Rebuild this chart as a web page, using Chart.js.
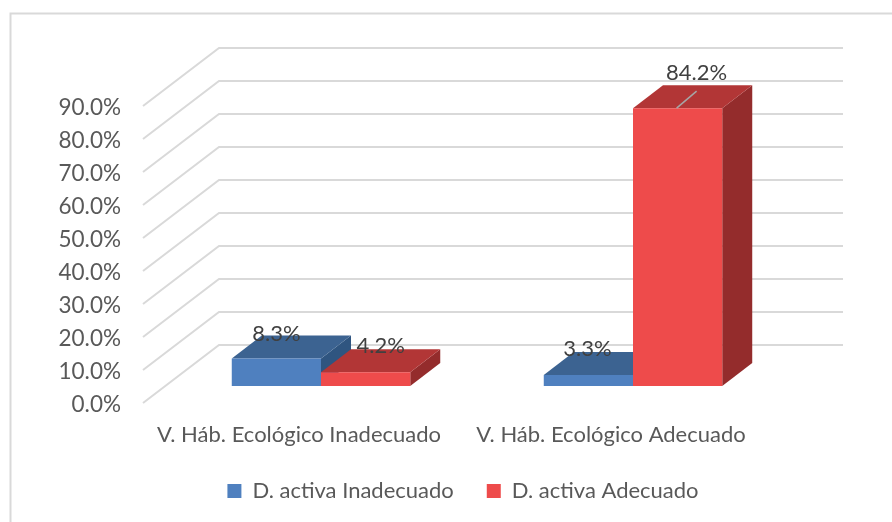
<!DOCTYPE html>
<html><head><meta charset="utf-8">
<style>html,body{margin:0;padding:0;background:#fff}#wrap{width:892px;height:522px}</style>
<script src="https://cdn.jsdelivr.net/npm/chart.js@4"></script>
</head><body><div id="wrap"><canvas id="c" width="892" height="522"></canvas></div>
<script>
const categories = ["V. Háb. Ecológico Inadecuado", "V. Háb. Ecológico Adecuado"];
const seriesInadecuado = [8.3, 3.3];
const seriesAdecuado = [4.2, 84.2];
const seriesNames = ["D. activa Inadecuado", "D. activa Adecuado"];

const FONT = "Lato";
const GRID_LIFT = -2;
const WALL = {dx: 76, dy: -58};
const BAR_SHIFT = {dx: 22, dy: -19};
const BAR_DEPTH = {dx: 30, dy: -23};
const shades = [
  {front: "#4f80bf", top: "#3c6391", side: "#2f5580"},
  {front: "#ee4b4b", top: "#b23636", side: "#942c2c"}
];
const labelNudge = [[[0, -25], [-1, -26]], [[15, -26], [19, -35]]];

const depth3d = {
  id: "depth3d",
  beforeDraw(chart) {
    const {ctx, chartArea: a, scales: {y}} = chart;
    ctx.save();
    ctx.strokeStyle = "#d9d9d9";
    ctx.lineWidth = 2;
    ctx.beginPath();
    ctx.moveTo(10.5, 522); ctx.lineTo(10.5, 13.5); ctx.lineTo(892, 13.5);
    ctx.stroke();
    y.ticks.forEach(t => {
      const py = y.getPixelForValue(t.value) + GRID_LIFT;
      ctx.beginPath();
      ctx.moveTo(a.left, py);
      ctx.lineTo(a.left + WALL.dx, py + WALL.dy);
      ctx.lineTo(a.right + WALL.dx, py + WALL.dy);
      ctx.stroke();
    });
    ctx.restore();
  },
  beforeDatasetsDraw(chart) {
    const ctx = chart.ctx;
    ctx.save();
    ctx.translate(BAR_SHIFT.dx, BAR_SHIFT.dy);
    chart.data.datasets.forEach((ds, i) => {
      const s = shades[i];
      chart.getDatasetMeta(i).data.forEach(b => {
        const l = b.x - b.width / 2, r = b.x + b.width / 2;
        const {dx, dy} = BAR_DEPTH;
        ctx.fillStyle = s.side;
        ctx.beginPath();
        ctx.moveTo(r, b.y); ctx.lineTo(r + dx, b.y + dy);
        ctx.lineTo(r + dx, b.base + dy); ctx.lineTo(r, b.base);
        ctx.closePath(); ctx.fill();
        ctx.fillStyle = s.top;
        ctx.beginPath();
        ctx.moveTo(l, b.y); ctx.lineTo(l + dx, b.y + dy);
        ctx.lineTo(r + dx, b.y + dy); ctx.lineTo(r, b.y);
        ctx.closePath(); ctx.fill();
      });
    });
    ctx.restore();
  },
  beforeDatasetDraw(chart) {
    chart.ctx.save();
    chart.ctx.translate(BAR_SHIFT.dx, BAR_SHIFT.dy);
  },
  afterDatasetDraw(chart) { chart.ctx.restore(); },
  afterDatasetsDraw(chart) {
    const ctx = chart.ctx;
    ctx.save();
    ctx.font = "22px " + FONT;
    ctx.fillStyle = "#404040";
    ctx.textAlign = "center";
    ctx.textBaseline = "middle";
    chart.data.datasets.forEach((ds, i) => {
      chart.getDatasetMeta(i).data.forEach((b, j) => {
        const cx = b.x + BAR_SHIFT.dx, top = b.y + BAR_SHIFT.dy;
        const [nx, ny] = labelNudge[i][j];
        if (i === 1 && j === 1) {
          ctx.strokeStyle = "#a6a6a6";
          ctx.lineWidth = 1.5;
          ctx.beginPath();
          ctx.moveTo(cx - 1, top);
          ctx.lineTo(cx + nx, top + ny + 18);
          ctx.stroke();
        }
        ctx.fillText(ds.data[j].toFixed(1) + "%", cx + nx, top + ny);
      });
    });
    ctx.restore();
  }
};

new Chart(document.getElementById("c"), {
  type: "bar",
  data: {
    labels: categories,
    datasets: [
      {label: seriesNames[0], data: seriesInadecuado, backgroundColor: shades[0].front, clip: false},
      {label: seriesNames[1], data: seriesAdecuado, backgroundColor: shades[1].front, clip: false}
    ]
  },
  options: {
    responsive: false,
    animation: false,
    layout: {padding: {left: 34, top: 108, right: 0, bottom: 10}},
    plugins: {
      tooltip: {enabled: false},
      legend: {
        position: "bottom",
        labels: {boxWidth: 14, boxHeight: 14, padding: 33, color: "#595959", font: {family: FONT, size: 22}}
      }
    },
    datasets: {bar: {barPercentage: 1, categoryPercentage: 0.572, borderWidth: 0}},
    scales: {
      x: {
        grid: {display: false}, border: {display: false},
        ticks: {color: "#595959", padding: 9, maxRotation: 0, autoSkip: false, font: {family: FONT, size: 22}},
        afterFit(s) { s.height = 42; }
      },
      y: {
        min: 0, max: 90,
        grid: {display: false}, border: {display: false},
        ticks: {stepSize: 10, color: "#595959", padding: 14, font: {family: FONT, size: 22.5},
                callback: v => v.toFixed(1) + "%"},
        afterFit(s) { s.width = 109; }
      },
      pad: {
        position: "right", display: true,
        grid: {display: false}, border: {display: false}, ticks: {display: false},
        afterFit(s) { s.width = 125; }
      }
    }
  },
  plugins: [depth3d]
});
</script></body></html>
